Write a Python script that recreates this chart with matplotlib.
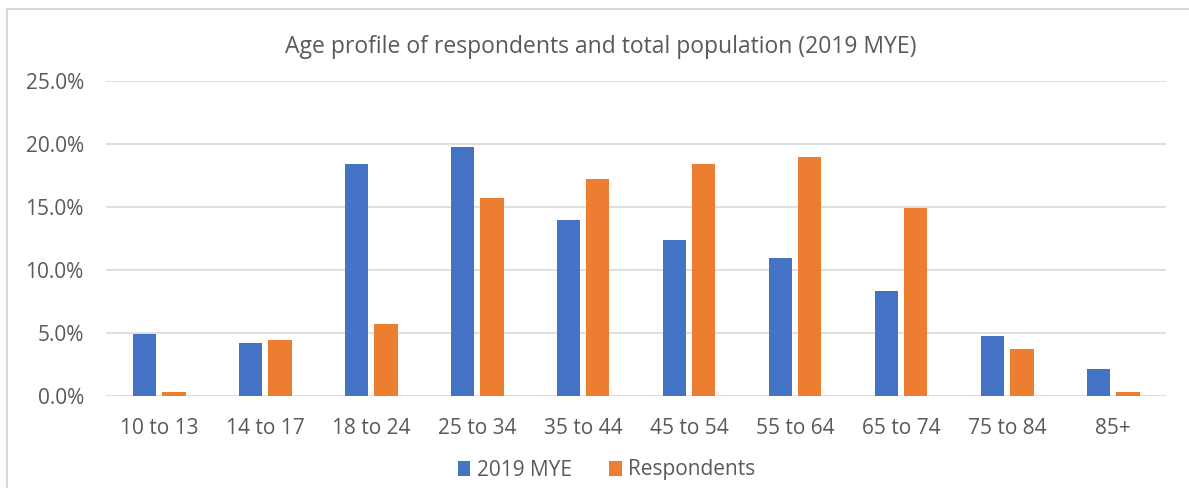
import numpy as np
import matplotlib.pyplot as plt
from matplotlib.lines import Line2D
from matplotlib.ticker import PercentFormatter

# data
age_groups = ['10 to 13', '14 to 17', '18 to 24', '25 to 34', '35 to 44',
              '45 to 54', '55 to 64', '65 to 74', '75 to 84', '85+']
mye_2019 = [4.95, 4.2, 18.4, 19.8, 13.95, 12.4, 10.95, 8.3, 4.8, 2.15]
respondents = [0.35, 4.45, 5.75, 15.75, 17.25, 18.4, 18.95, 14.95, 3.7, 0.3]

plt.rcParams['font.family'] = ['Open Sans', 'DejaVu Sans']

fig = plt.figure(figsize=(11.89, 4.88), dpi=100)
ax = fig.add_axes([106/1189, 1 - 396/488, 1060/1189, 315/488])

x = np.arange(len(age_groups))
w = 0.22
ax.bar(x - 0.14, mye_2019, w, color='#4472C4', label='2019 MYE', zorder=3)
ax.bar(x + 0.14, respondents, w, color='#ED7D31', label='Respondents', zorder=3)

ax.set_xlim(-0.5, len(age_groups) - 0.5)
ax.set_ylim(0, 25)
ax.set_yticks(np.arange(0, 26, 5))
ax.yaxis.set_major_formatter(PercentFormatter(decimals=1))
ax.set_xticks(x)
ax.set_xticklabels(age_groups)
ax.tick_params(length=0, labelsize=15, labelcolor='#595959')
ax.tick_params(axis='x', pad=16)
ax.tick_params(axis='y', pad=16)
ax.grid(axis='y', color='#D9D9D9', linewidth=1.2, zorder=0)
for s in ax.spines.values():
    s.set_visible(False)

fig.text(0.505, 1 - 47/488, 'Age profile of respondents and total population (2019 MYE)',
         ha='center', va='center', fontsize=16.5, color='#595959')

fig.legend(loc='center', bbox_to_anchor=(0.51, 1 - 470/488), ncol=2, frameon=False,
           fontsize=15, labelcolor='#595959', handlelength=0.6, handleheight=0.7,
           handletextpad=0.3, columnspacing=1.8)

# chart frame
fig.add_artist(Line2D([7/1189, 1], [1 - 9/488, 1 - 9/488], color='#D9D9D9', lw=1.5))
fig.add_artist(Line2D([7/1189, 7/1189], [0, 1 - 9/488], color='#D9D9D9', lw=1.5))

fig.savefig('out.png', dpi=100)
